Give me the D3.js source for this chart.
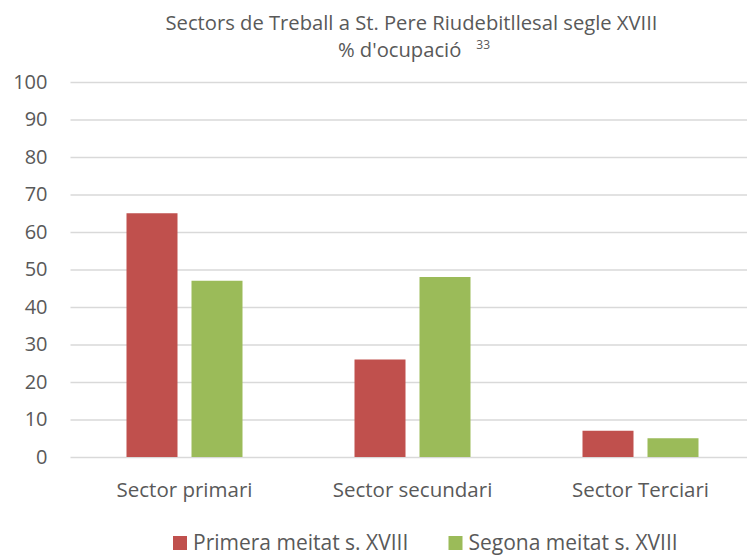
<!DOCTYPE html>
<html><head><meta charset="utf-8">
<script src="https://cdn.jsdelivr.net/npm/d3@7"></script>
<style>body{margin:0;background:#fff}svg{display:block}text{font-family:"Open Sans",sans-serif;fill:#595959}</style>
</head><body><svg id="c" width="747" height="556"></svg>
<script>
const categories = ["Sector primari", "Sector secundari", "Sector Terciari"];
const seriesNames = ["Primera meitat s. XVIII", "Segona meitat s. XVIII"];
const primera = [65, 26, 7];
const segona = [47, 48, 5];
const yTicks = [0,10,20,30,40,50,60,70,80,90,100];
const colors = ["#C0504D", "#9BBB59"];
const values = [primera, segona];

(function(){
const svg = d3.select("#c");
const mLeft = 70.5, mRight = 754.5, mTop = 82, mBottom = 457;
const x = d3.scaleBand().domain(categories).range([mLeft, mRight]).padding(0);
const inner = d3.scaleBand().domain(seriesNames).range([56, 172]).paddingInner(14/65);
const y = d3.scaleLinear().domain([0,100]).range([mBottom, mTop]);

const yAxis = d3.axisLeft(y).tickValues(yTicks).tickSize(-(747-mLeft)).tickPadding(23);
const gy = svg.append("g").attr("transform", `translate(${mLeft},0)`).call(yAxis);
gy.select(".domain").remove();
gy.selectAll("line").attr("stroke", "#D9D9D9").attr("stroke-width", 1.3);
gy.selectAll("text").attr("font-size", 20).attr("fill", "#595959").attr("dy", "0.32em").attr("font-family", "Open Sans");

categories.forEach((c, i) => {
  seriesNames.forEach((s, j) => {
    svg.append("rect")
      .attr("x", x(c) + inner(s))
      .attr("width", inner.bandwidth())
      .attr("y", y(values[j][i]))
      .attr("height", y(0) - y(values[j][i]))
      .attr("fill", colors[j]);
  });
});

const xAxis = d3.axisBottom(x).tickSize(0).tickPadding(25);
const gx = svg.append("g").attr("transform", `translate(0,${mBottom})`).call(xAxis);
gx.select(".domain").remove();
gx.selectAll("text").attr("font-size", 20.5).attr("fill", "#595959").attr("dy", "0.71em").attr("font-family", "Open Sans");

const t = svg.append("text").attr("x", 411.5).attr("y", 30).attr("text-anchor", "middle").attr("font-size", 20.2);
t.text("Sectors de Treball a St. Pere Riudebitllesal segle XVIII");
const t2 = svg.append("text").attr("x", 414).attr("y", 56.5).attr("text-anchor", "middle").attr("font-size", 20.2);
t2.append("tspan").text("% d'ocupació");
t2.append("tspan").attr("font-size", 12).attr("dx", 15).attr("dy", -8).text("33");

const legX = [173, 448.5];
seriesNames.forEach((s, j) => {
  const g = svg.append("g").attr("transform", `translate(${legX[j]},536)`);
  g.append("rect").attr("width", 14).attr("height", 14).attr("fill", colors[j]);
  g.append("text").attr("x", 20).attr("y", 14).attr("font-size", 21).text(s);
});
})();
</script></body></html>
